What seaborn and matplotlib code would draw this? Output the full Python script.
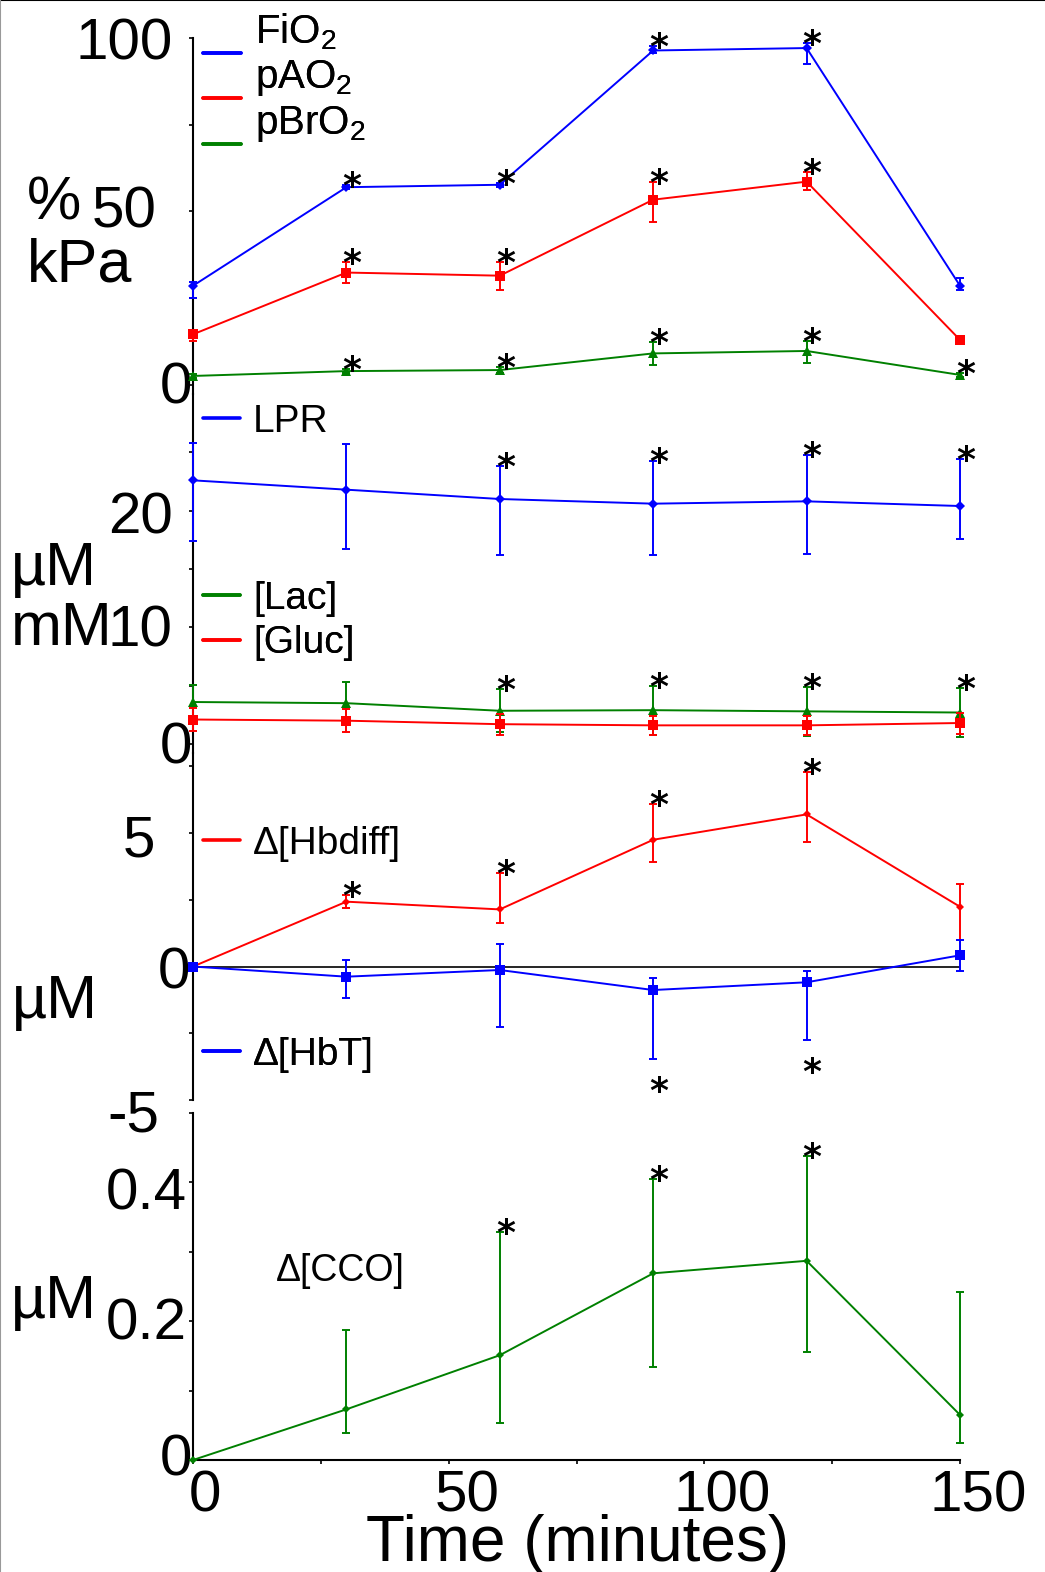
import numpy as np
import pandas as pd
import matplotlib
matplotlib.use("Agg")
import matplotlib.pyplot as plt
from matplotlib.lines import Line2D
from matplotlib.legend_handler import HandlerLine2D
from matplotlib.transforms import ScaledTranslation
import seaborn as sns

# ---------------- data ----------------
time_min = [0, 30, 60, 90, 120, 150]

fio2 = [28.6, 57.0, 57.7, 96.4, 97.1, 28.6]
fio2_lo = [3.5, 0.5, 0.5, 0.8, 4.6, 1.2]
fio2_hi = [1.2, 0.5, 0.5, 1.4, 1.4, 2.2]
fio2_sig = [0, 1, 1, 1, 1, 0]

pao2 = [14.6, 32.4, 31.5, 53.4, 58.6, 13.0]
pao2_lo = [2.0, 2.9, 4.1, 6.5, 2.4, 0.5]
pao2_hi = [1.0, 3.0, 3.8, 5.0, 2.9, 0.5]
pao2_sig = [0, 1, 1, 1, 1, 0]

pbro2 = [2.6, 4.0, 4.3, 9.1, 9.8, 2.9]
pbro2_lo = [0.5, 0.5, 0.8, 3.4, 3.5, 0.5]
pbro2_hi = [0.5, 0.5, 0.8, 3.4, 3.0, 0.5]
pbro2_sig = [0, 1, 1, 1, 1, 1]

lpr = [22.6, 21.8, 21.0, 20.6, 20.8, 20.4]
lpr_lo = [5.2, 5.1, 4.8, 4.4, 4.5, 2.8]
lpr_hi = [3.2, 3.9, 2.8, 3.7, 4.0, 4.0]
lpr_sig = [0, 0, 1, 1, 1, 1]

lac = [3.6, 3.5, 2.85, 2.9, 2.8, 2.7]
lac_err = [1.5, 1.8, 1.85, 2.1, 2.1, 2.1]
lac_sig = [0, 0, 1, 1, 1, 1]

gluc = [2.1, 2.0, 1.7, 1.6, 1.6, 1.8]
gluc_err = [1.0, 1.0, 0.9, 0.8, 0.8, 0.9]

hbdiff = [0.0, 2.43, 2.14, 4.75, 5.70, 2.24]
hbdiff_lo = [0.0, 0.25, 0.51, 0.85, 1.05, 1.66]
hbdiff_hi = [0.0, 0.25, 1.36, 1.33, 1.57, 0.86]
hbdiff_sig = [0, 1, 1, 1, 1, 0]

hbt = [0.0, -0.38, -0.13, -0.88, -0.59, 0.42]
hbt_lo = [0.0, 0.78, 2.13, 2.58, 2.18, 0.58]
hbt_hi = [0.0, 0.63, 0.96, 0.45, 0.41, 0.58]
hbt_sig = [0, 0, 0, 1, 1, 0]

cco = [0.0, 0.073, 0.151, 0.269, 0.287, 0.065]
cco_lo = [0.0, 0.034, 0.097, 0.135, 0.131, 0.040]
cco_hi = [0.0, 0.115, 0.177, 0.136, 0.151, 0.177]
cco_sig = [0, 0, 1, 1, 1, 0]

x_ticks = [0, 50, 100, 150]
x_minor = [25, 75, 125]

BLUE, RED, GREEN = "#0000FF", "#FF0000", "#008000"

# ---------------- style ----------------
sns.set_style("ticks")
plt.rcParams["font.family"] = ["Liberation Sans", "DejaVu Sans"]
plt.rcParams["mathtext.fontset"] = "custom"
plt.rcParams["mathtext.rm"] = "Liberation Sans"
plt.rcParams["mathtext.it"] = "Liberation Sans"
plt.rcParams["mathtext.default"] = "regular"
plt.rcParams["axes.unicode_minus"] = False
plt.rcParams["text.color"] = "black"
plt.rcParams["xtick.color"] = "black"
plt.rcParams["ytick.color"] = "black"
plt.rcParams["axes.labelcolor"] = "black"

W, H = 1045, 1572
fig = plt.figure(figsize=(W / 100, H / 100), dpi=100)
fig.patch.set_facecolor("white")


def fx(px):
    return px / W


def fy(py):
    return 1 - py / H


def add_panel(top, bottom):
    return fig.add_axes([fx(193), fy(bottom), fx(960) - fx(193), fy(top) - fy(bottom)])


ax1 = add_panel(38, 394)
ax2 = add_panel(394, 753)
ax3 = add_panel(753, 1100)
ax4 = add_panel(1113, 1460)
axes = [ax1, ax2, ax3, ax4]

TICK_FS = 42
LW = 1.4
STAR_FS = 26
STAR_C = 21  # px from baseline to glyph centre


def series(ax, y, lo, hi, color, marker, ms):
    sns.lineplot(x=time_min, y=y, ax=ax, color=color, linewidth=LW, marker=marker,
                 markersize=ms, markeredgewidth=0, errorbar=None, clip_on=False,
                 zorder=3)
    ax.errorbar(time_min, y, yerr=[lo, hi], fmt="none", ecolor=color,
                elinewidth=LW, capsize=3.2, capthick=LW, clip_on=False, zorder=3)


def stars(ax, y, lo, hi, sig, below=False):
    for t, v, l, h, s in zip(time_min, y, lo, hi, sig):
        if not s:
            continue
        if below:
            anchor, gap = v - l, -22
        else:
            anchor, gap = v + h, 9
        ax.annotate("*", xy=(t, anchor), xytext=(4, (gap - STAR_C) * 0.72),
                    textcoords="offset points", ha="center", va="baseline",
                    fontsize=STAR_FS, fontweight="bold", family="DejaVu Sans",
                    color="black", annotation_clip=False)


# Panel 1
series(ax1, fio2, fio2_lo, fio2_hi, BLUE, "D", 5.5)
series(ax1, pao2, pao2_lo, pao2_hi, RED, "s", 7)
series(ax1, pbro2, pbro2_lo, pbro2_hi, GREEN, "^", 7)
stars(ax1, fio2, fio2_lo, fio2_hi, fio2_sig)
stars(ax1, pao2, pao2_lo, pao2_hi, pao2_sig)
stars(ax1, pbro2, pbro2_lo, pbro2_hi, pbro2_sig)
ax1.set_ylim(-2.6, 100)
ax1.set_yticks([0, 50, 100], labels=["0", "50", "100"])
ax1.set_yticks([25, 75], minor=True)

# Panel 2
series(ax2, lpr, lpr_lo, lpr_hi, BLUE, "D", 5.5)
series(ax2, lac, lac_err, lac_err, GREEN, "^", 7)
series(ax2, gluc, gluc_err, gluc_err, RED, "s", 7)
stars(ax2, lpr, lpr_lo, lpr_hi, lpr_sig)
stars(ax2, lac, lac_err, lac_err, lac_sig)
ax2.set_ylim(-0.77, 30)
ax2.set_yticks([0, 10, 20], labels=["0", "10", "20"])
ax2.set_yticks([5, 15, 25], minor=True)

# Panel 3
ax3.axhline(0, color="black", lw=1.2, zorder=1)
series(ax3, hbdiff, hbdiff_lo, hbdiff_hi, RED, "D", 4.5)
series(ax3, hbt, hbt_lo, hbt_hi, BLUE, "s", 7.5)
stars(ax3, hbdiff, hbdiff_lo, hbdiff_hi, hbdiff_sig)
stars(ax3, hbt, hbt_lo, hbt_hi, hbt_sig, below=True)
ax3.set_ylim(-5, 8)
ax3.set_yticks([-5, 0, 5], labels=["-5", "0", "5"])
ax3.set_yticks([-2.5, 2.5, 7.5], minor=True)

# Panel 4
series(ax4, cco, cco_lo, cco_hi, GREEN, "D", 4.5)
stars(ax4, cco, cco_lo, cco_hi, cco_sig)
ax4.set_ylim(0, 0.5)
ax4.set_yticks([0, 0.2, 0.4], labels=["0", "0.2", "0.4"])
ax4.set_yticks([0.1, 0.3, 0.5], minor=True)

for ax in axes:
    ax.set_xlim(0, 150)
    ax.set_xlabel("")
    ax.set_ylabel("")
    for s in ["top", "right", "bottom"]:
        ax.spines[s].set_visible(False)
    ax.spines["left"].set_linewidth(1.5)
    ax.spines["left"].set_color("black")
    ax.tick_params(axis="y", which="both", direction="out", length=3, width=1.2,
                   color="black", labelcolor="black", labelsize=TICK_FS, pad=11.5)
    ax.set_facecolor("none")

for ax in [ax1, ax2, ax3]:
    ax.tick_params(axis="x", which="both", bottom=False, labelbottom=False)

ax4.spines["bottom"].set_visible(True)
ax4.spines["bottom"].set_linewidth(1.5)
ax4.spines["bottom"].set_color("black")
ax4.set_xticks(x_ticks, labels=[str(v) for v in x_ticks])
ax4.set_xticks(x_minor, minor=True)
ax4.tick_params(axis="x", which="both", direction="out", length=3, width=1.2,
                color="black", labelcolor="black", labelsize=TICK_FS, pad=4)

# per-label nudges (pixels) to mimic reference layout
nudges = {
    ax1: [(19, 2), (-16, 5), (0, 0)],
    ax2: [(19, 2), (0, 2), (0, -2)],
    ax3: [(-13, -10), (17, -1), (-18, -2)],
    ax4: [(19, 5), (14, 3), (14, -6)],
}
for ax, offs in nudges.items():
    for tick, (dx, dy) in zip(ax.yaxis.get_major_ticks(), offs):
        tick.label1.set_transform(tick.label1.get_transform() +
                                  ScaledTranslation(dx / 100, dy / 100, fig.dpi_scale_trans))
for tick, dx in zip(ax4.xaxis.get_major_ticks(), [12, 18, 18, 18]):
    tick.label1.set_transform(tick.label1.get_transform() +
                              ScaledTranslation(dx / 100, 0, fig.dpi_scale_trans))

# unit labels
UFS = 44
fig.text(fx(27), fy(220), "%", fontsize=UFS, ha="left", va="baseline")
fig.text(fx(27), fy(282), "kPa", fontsize=UFS, ha="left", va="baseline")
fig.text(fx(11), fy(585), "µM", fontsize=UFS, ha="left", va="baseline")
fig.text(fx(11), fy(645), "mM", fontsize=UFS, ha="left", va="baseline")
fig.text(fx(12), fy(1018), "µM", fontsize=UFS, ha="left", va="baseline")
fig.text(fx(11), fy(1318), "µM", fontsize=UFS, ha="left", va="baseline")

fig.text(fx(578), fy(1561), "Time (minutes)", fontsize=46, ha="center", va="baseline")

fig.text(fx(276), fy(1271), "Δ[CCO]", fontsize=27, ha="left", va="center")


class ShiftedLineHandler(HandlerLine2D):
    """Legend line handle drawn lower by a fixed number of points."""

    def __init__(self, shift_pt=0.0, **kw):
        super().__init__(**kw)
        self.shift_pt = shift_pt

    def create_artists(self, legend, orig_handle, xdescent, ydescent, width, height,
                       fontsize, trans):
        arts = super().create_artists(legend, orig_handle, xdescent, ydescent, width,
                                      height, fontsize, trans)
        for a in arts:
            a.set_ydata(np.asarray(a.get_ydata(), dtype=float) - self.shift_pt)
        return arts


# legends
def legend(ax, entries, x_px, top_px, fs=28, spacing=0.05, ypad=0.0, shift_px=0.0):
    handles = [Line2D([], [], color=c, lw=2.6) for c, _ in entries]
    labels = [lab for _, lab in entries]
    leg = ax.legend(handles, labels, loc="upper left",
                    bbox_to_anchor=(fx(x_px), fy(top_px)), bbox_transform=fig.transFigure,
                    frameon=False, fontsize=fs, handlelength=0.95, handletextpad=0.33,
                    borderpad=0, borderaxespad=0, labelspacing=spacing,
                    handler_map={Line2D: ShiftedLineHandler(shift_pt=shift_px * 0.72,
                                                            ypad=ypad)})
    for txt in leg.get_texts():
        txt.set_color("black")
    ax.add_artist(leg)
    return leg


legend(ax1, [(BLUE, "FiO$_2$"), (RED, "pAO$_2$"), (GREEN, "pBrO$_2$")], 203, 11,
       fs=29, spacing=0.15, ypad=-1.5, shift_px=24)
legend(ax2, [(BLUE, "LPR")], 203, 404)
legend(ax2, [(GREEN, "[Lac]"), (RED, "[Gluc]")], 203, 581, spacing=0.21)
legend(ax3, [(RED, "Δ[Hbdiff]")], 203, 826)
legend(ax3, [(BLUE, "Δ[HbT]")], 203, 1037)

# thin frame lines along top / left edge as in reference
fig.add_artist(Line2D([0, 1], [1, 1], transform=fig.transFigure, color="black", lw=1.5))
fig.add_artist(Line2D([0, 0], [0, 1], transform=fig.transFigure, color="#999999", lw=1.5))

fig.savefig("out.png", dpi=100, facecolor="white")
